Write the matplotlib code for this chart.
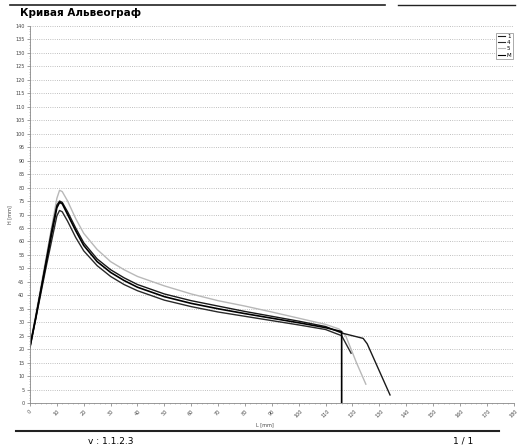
import numpy as np
import matplotlib
matplotlib.use("Agg")
import matplotlib.pyplot as plt
from matplotlib.lines import Line2D
from matplotlib.ticker import MultipleLocator

# данные кривых (L [mm], H [mm])
L_1 = [0, 2, 4, 6, 8, 10, 11, 12, 14, 17, 20, 25, 30, 35, 40, 50, 60, 70, 80, 90, 100, 110, 116, 124, 125.5, 134]
H_1 = [21, 31, 42, 53, 64, 73.5, 75, 74.5, 71, 65, 59.5, 53.5, 49.5, 46.5, 44, 40.5, 38, 36, 34, 32.2, 30.4, 28.4, 26, 24, 22, 3]

L_4 = [0, 2, 4, 6, 8, 10, 11, 12, 14, 17, 20, 25, 30, 35, 40, 50, 60, 70, 80, 90, 100, 110, 116, 119.5]
H_4 = [20.5, 30.5, 40.5, 50.5, 60, 69.5, 71.5, 71, 67.5, 61.5, 56.5, 51, 47, 44, 41.7, 38.2, 35.8, 33.8, 32.2, 30.6, 29, 27.3, 25, 18.5]

L_5 = [0, 2, 4, 6, 8, 10, 11, 12, 14, 17, 20, 25, 30, 35, 40, 50, 60, 70, 80, 90, 100, 110, 115, 117.5, 121.5, 125]
H_5 = [21.5, 32, 43, 54, 65, 76, 79, 78.5, 75, 68.5, 63, 57, 52.5, 49.5, 47, 43.5, 40.5, 38, 36, 33.8, 31.5, 29.2, 27.5, 25, 15, 7]

L_M = [0, 2, 4, 6, 8, 10, 11, 12, 14, 17, 20, 25, 30, 35, 40, 50, 60, 70, 80, 90, 100, 110, 116, 116]
H_M = [21, 31, 41.5, 52, 62.5, 72.5, 74.5, 74, 70, 64, 58.5, 52.5, 48.5, 45.5, 43, 39.5, 37, 35, 33.2, 31.5, 29.8, 28, 26.5, 0]

x_ticks = list(range(0, 181, 10))
y_ticks = list(range(0, 141, 5))

fig = plt.figure(figsize=(5.2, 4.48), dpi=100)
ax = fig.add_axes([0.0577, 0.1004, 0.930, 0.8416])

ax.plot(L_5, H_5, color="#b8b8b8", lw=1.0, label="5")
ax.plot(L_4, H_4, color="#2a2a2a", lw=1.0, label="4")
ax.plot(L_1, H_1, color="#1a1a1a", lw=1.0, label="1")
ax.plot(L_M, H_M, color="#000000", lw=1.2, label="M")

ax.set_xlim(0, 180)
ax.set_ylim(0, 140)
ax.set_xticks(x_ticks)
ax.set_xticklabels([str(v) for v in x_ticks], rotation=45, fontsize=3.5, color="#444")
ax.set_yticks(y_ticks)
ax.set_yticklabels([str(v) for v in y_ticks], fontsize=3.5, color="#444")
ax.xaxis.set_minor_locator(MultipleLocator(2))
ax.yaxis.set_minor_locator(MultipleLocator(1))
ax.tick_params(which="major", length=2, width=0.5, color="#777", pad=2)
ax.tick_params(which="minor", length=1, width=0.4, color="#999")

ax.grid(axis="y", which="major", linestyle=":", color="#aaa", lw=0.6)
for s in ["top", "right"]:
    ax.spines[s].set_visible(False)
for s in ["left", "bottom"]:
    ax.spines[s].set_color("#888")
    ax.spines[s].set_linewidth(0.6)

ax.set_xlabel("L [mm]", fontsize=3.5, labelpad=1, color="#444")
ax.xaxis.set_label_coords(0.485, -0.05)
ax.set_ylabel("H [mm]", fontsize=3.5, labelpad=2, color="#444")

handles = [Line2D([], [], color="#1a1a1a", lw=0.8),
           Line2D([], [], color="#2a2a2a", lw=0.8),
           Line2D([], [], color="#b8b8b8", lw=0.8),
           Line2D([], [], color="#000000", lw=0.8)]
leg = ax.legend(handles, ["1", "4", "5", "M"], loc="upper right", bbox_to_anchor=(1.005, 0.99),
                fontsize=4, handlelength=1.3, handletextpad=0.3, borderpad=0.3,
                labelspacing=0.2, fancybox=False, framealpha=1)
leg.get_frame().set_edgecolor("#888")
leg.get_frame().set_linewidth(0.5)

fig.text(0.038, 0.96, "Кривая Альвеограф", fontsize=7.5, fontweight="bold", ha="left", va="bottom")
fig.add_artist(Line2D([0.02, 0.74], [0.988, 0.988], color="#222", lw=1.2))
fig.add_artist(Line2D([0.765, 0.99], [0.988, 0.988], color="#222", lw=1.0))
fig.add_artist(Line2D([0.03, 0.96], [0.038, 0.038], color="#222", lw=1.5))
fig.text(0.17, 0.015, "v : 1.1.2.3", fontsize=6.5, ha="left", va="center")
fig.text(0.872, 0.015, "1 / 1", fontsize=6.5, ha="left", va="center")

fig.savefig("out.png", dpi=100)
